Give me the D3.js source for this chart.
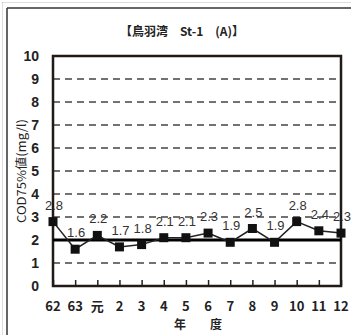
<!DOCTYPE html>
<html><head><meta charset="utf-8">
<script src="https://cdn.jsdelivr.net/npm/d3@7"></script>
<style>body{margin:0;background:#fff}svg{display:block}</style>
</head><body>
<script>
const categories = ["62","63","元","2","3","4","5","6","7","8","9","10","11","12"];
const values = [2.8,1.6,2.2,1.7,1.8,2.1,2.1,2.3,1.9,2.5,1.9,2.8,2.4,2.3];
const yTicks = [0,1,2,3,4,5,6,7,8,9,10];
const standard = 2;
const title = "【鳥羽湾　St-1　(A)】";
const yTitle = "COD75%値(mg/l)";
const xTitle = ["年","度"];

const W=351,H=335;
const svg=d3.select("body").append("svg").attr("width",W).attr("height",H);
// outer borders
svg.append("line").attr("x1",2.5).attr("x2",W).attr("y1",2.5).attr("y2",2.5).attr("stroke","#bbb").attr("stroke-dasharray","1,1");
svg.append("line").attr("x1",2.5).attr("x2",2.5).attr("y1",2.5).attr("y2",H).attr("stroke","#bbb").attr("stroke-dasharray","1,1");
svg.append("line").attr("x1",7).attr("x2",W).attr("y1",8).attr("y2",8).attr("stroke","#333").attr("stroke-width",1.5);
svg.append("line").attr("x1",7).attr("x2",7).attr("y1",8).attr("y2",H).attr("stroke","#333").attr("stroke-width",1.5);

const L=53,R=341,T=56,B=286;
const x=d3.scalePoint().domain(categories).range([L,R]);
const y=d3.scaleLinear().domain([0,10]).range([B,T]);

const font="'Liberation Sans Narrow','Liberation Sans',Arial,sans-serif";
// gridlines
svg.append("g").selectAll("line").data(yTicks.filter(d=>d>0&&d<10&&d!==standard)).join("line")
 .attr("x1",L).attr("x2",R).attr("y1",d=>y(d)).attr("y2",d=>y(d))
 .attr("stroke","#444").attr("stroke-width",1.5).attr("stroke-dasharray","7,5");

// axes
const yAxis=svg.append("g").attr("transform",`translate(${L},0)`).call(d3.axisLeft(y).tickValues(yTicks).tickSize(0).tickPadding(14));
yAxis.select(".domain").remove();
yAxis.selectAll("text").attr("font-family",font).attr("font-size",14).attr("font-weight","bold").attr("fill","#222");
const xAxis=svg.append("g").attr("transform",`translate(0,${B})`).call(d3.axisTop(x).tickSize(6).tickFormat(""));
xAxis.select(".domain").remove();
xAxis.selectAll("line").attr("stroke","#222").attr("stroke-width",1.5);
svg.append("g").selectAll("text").data(categories).join("text")
 .attr("x",d=>x(d)).attr("y",B+25).attr("text-anchor","middle")
 .attr("font-family","'Liberation Sans Narrow','Noto Sans CJK JP',sans-serif").attr("font-weight","bold").attr("font-size",13).attr("fill","#222").text(d=>d);

// frame
svg.append("rect").attr("x",L).attr("y",T).attr("width",R-L).attr("height",B-T).attr("fill","none").attr("stroke","#221a14").attr("stroke-width",2.5);

// standard line
svg.append("line").attr("x1",L).attr("x2",R).attr("y1",y(standard)).attr("y2",y(standard)).attr("stroke","#000").attr("stroke-width",3);

// series
svg.append("path").datum(values).attr("fill","none").attr("stroke","#222").attr("stroke-width",1.5)
 .attr("d",d3.line().x((d,i)=>x(categories[i])).y(d=>y(d)));
svg.append("g").selectAll("rect").data(values).join("rect")
 .attr("x",(d,i)=>x(categories[i])-4.5).attr("y",d=>y(d)-4.5).attr("width",9).attr("height",9).attr("fill","#111");
svg.append("g").selectAll("text").data(values).join("text")
 .attr("x",(d,i)=>x(categories[i])+1).attr("y",d=>y(d)-12).attr("text-anchor","middle")
 .attr("font-family",font).attr("font-size",13).attr("fill","#333").text(d=>d.toFixed(1));

// titles
svg.append("text").attr("x",182).attr("y",36).attr("text-anchor","middle")
 .attr("font-family","'Noto Sans CJK JP',sans-serif").attr("font-weight","bold").attr("font-size",12).attr("fill","#222").text(title);
svg.append("text").attr("transform",`translate(26,${(T+B)/2}) rotate(-90)`).attr("text-anchor","middle")
 .attr("font-family","'Liberation Sans Narrow','Noto Sans CJK JP',sans-serif").attr("font-size",12)
 .attr("textLength",104).attr("lengthAdjust","spacingAndGlyphs").attr("fill","#222").text(yTitle);
svg.append("text").attr("x",180).attr("y",329).attr("text-anchor","middle").attr("font-family","'Noto Sans CJK JP',sans-serif").attr("font-weight","bold").attr("font-size",12).attr("fill","#222").text(xTitle[0]);
svg.append("text").attr("x",216).attr("y",329).attr("text-anchor","middle").attr("font-family","'Noto Sans CJK JP',sans-serif").attr("font-weight","bold").attr("font-size",12).attr("fill","#222").text(xTitle[1]);
</script>
</body></html>
